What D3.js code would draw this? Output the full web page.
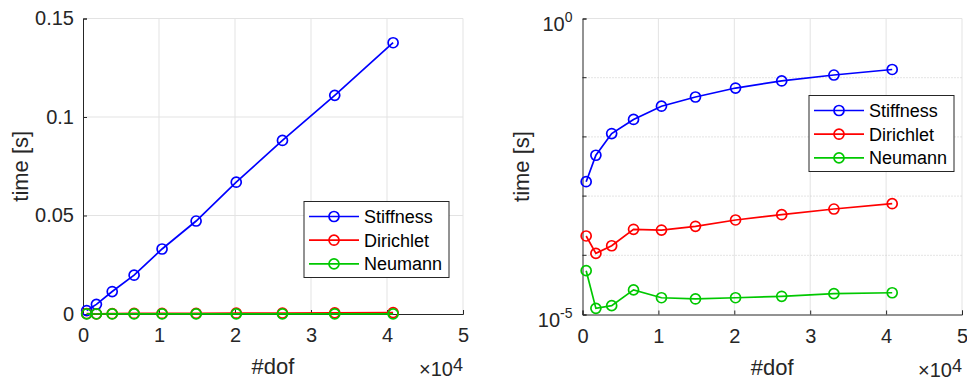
<!DOCTYPE html>
<html>
<head>
<meta charset="utf-8">
<script src="https://cdn.jsdelivr.net/npm/d3@7"></script>
<style>
  body { margin: 0; background: #fff; }
  svg { display: block; font-family: "Liberation Sans", Arial, Helvetica, sans-serif; }
</style>
</head>
<body>
<svg id="chart" width="967" height="381"></svg>
<script>
// data
const dof = [484, 1764, 3844, 6724, 10404, 14884, 20164, 26244, 33124, 40804];
const stiffness = [0.00175, 0.0049, 0.0114, 0.0197, 0.033, 0.0472, 0.0669, 0.0881, 0.111, 0.1377];
const dirichlet = [2.12e-4, 1.08e-4, 1.45e-4, 2.75e-4, 2.67e-4, 3.09e-4, 3.95e-4, 4.85e-4, 6.05e-4, 7.44e-4];
const neumann = [5.5e-5, 1.27e-5, 1.41e-5, 2.6e-5, 1.92e-5, 1.83e-5, 1.92e-5, 2.03e-5, 2.25e-5, 2.33e-5];
const seriesNames = ['Stiffness', 'Dirichlet', 'Neumann'];
const xTicks = [0, 10000, 20000, 30000, 40000, 50000];
const yTicksLin = [0, 0.05, 0.1, 0.15];
const yTicksLog = [1e-5, 1];
const yMinorLog = [1e-4, 1e-3, 1e-2, 1e-1];

const colors = ['#0000ff', '#ff0000', '#00c800'];
const axisColor = '#262626';
const gridColor = '#e3e3e3';

const series = [stiffness, dirichlet, neumann].map((vals, i) => ({
  name: seriesNames[i],
  color: colors[i],
  points: vals.map((v, j) => ({ x: dof[j], y: v }))
}));

const svg = d3.select('#chart');

/**
 * draws one MATLAB-like panel
 */
function drawPanel(opts) {
  const { left, top, width, height, log, legendPos } = opts;
  const g = svg.append('g').attr('transform', `translate(${left},${top})`);

  const x = d3.scaleLinear().domain([0, 50000]).range([0, width]);
  const y = log
    ? d3.scaleLog().domain([1e-5, 1]).range([height, 0])
    : d3.scaleLinear().domain([0, 0.15]).range([height, 0]);

  // grid
  const grid = g.append('g');
  grid.selectAll('.vg').data(xTicks.slice(1)).enter().append('line')
    .attr('x1', d => x(d)).attr('x2', d => x(d))
    .attr('y1', 0).attr('y2', height)
    .attr('stroke', gridColor).attr('stroke-width', 1);
  const hTicks = log ? yTicksLog : yTicksLin;
  grid.selectAll('.hg').data(hTicks.slice(1)).enter().append('line')
    .attr('x1', 0).attr('x2', width)
    .attr('y1', d => y(d)).attr('y2', d => y(d))
    .attr('stroke', gridColor).attr('stroke-width', 1);
  if (log) {
    grid.selectAll('.mg').data(yMinorLog).enter().append('line')
      .attr('x1', 0).attr('x2', width)
      .attr('y1', d => y(d)).attr('y2', d => y(d))
      .attr('stroke', '#c8c8c8').attr('stroke-width', 1)
      .attr('stroke-dasharray', '1,2');
  }

  // axes
  const xAxis = d3.axisBottom(x).tickValues(xTicks)
    .tickSize(-4).tickPadding(10)
    .tickFormat(d => d / 10000);
  const gx = g.append('g').attr('transform', `translate(0,${height})`).call(xAxis);

  let gy;
  if (log) {
    gy = g.append('g').call(d3.axisLeft(y).tickValues(yTicksLog).tickSize(-4).tickPadding(10).tickFormat(''));
    gy.selectAll('.tick').each(function(d) {
      const t = d3.select(this).append('text')
        .attr('x', -10).attr('y', 12)
        .attr('text-anchor', 'end')
        .attr('fill', axisColor)
        .style('font-size', '20px');
      const e = Math.round(Math.log10(d));
      t.append('tspan').text('10');
      t.append('tspan').attr('dy', -9).style('font-size', '14px').text(e);
    });
    g.append('g').selectAll('line').data(yMinorLog).enter().append('line')
      .attr('x1', 0).attr('x2', 4)
      .attr('y1', d => y(d)).attr('y2', d => y(d))
      .attr('stroke', axisColor);
  } else {
    gy = g.append('g').call(d3.axisLeft(y).tickValues(yTicksLin).tickSize(-4).tickPadding(9).tickFormat(d => d));
  }

  [gx, gy].forEach(a => {
    a.select('.domain').attr('stroke', axisColor);
    a.selectAll('.tick line').attr('stroke', axisColor);
    a.selectAll('.tick text').attr('fill', axisColor).style('font-size', '20px');
  });
  gx.selectAll('.tick text').attr('dy', '0.9em');

  // axis labels
  g.append('text')
    .attr('x', width / 2).attr('y', height + 60)
    .attr('text-anchor', 'middle')
    .attr('fill', axisColor)
    .style('font-size', '22px')
    .text('#dof');
  g.append('text')
    .attr('transform', `translate(${opts.ylabelX},${height / 2}) rotate(-90)`)
    .attr('text-anchor', 'middle')
    .attr('dy', '0.35em')
    .attr('fill', axisColor)
    .style('font-size', '22px')
    .text('time [s]');

  // exponent label
  const ex = g.append('text')
    .attr('x', width).attr('y', height + 62)
    .attr('text-anchor', 'end')
    .attr('fill', axisColor)
    .style('font-size', '20px');
  ex.append('tspan').text('\u00d710');
  ex.append('tspan').attr('dy', -5).style('font-size', '18px').text('4');

  // lines and markers
  const line = d3.line().x(d => x(d.x)).y(d => y(d.y));
  const sg = g.selectAll('.series').data(series).enter().append('g');
  sg.append('path')
    .attr('d', d => line(d.points))
    .attr('fill', 'none')
    .attr('stroke', d => d.color)
    .attr('stroke-width', 1.7);
  sg.selectAll('circle').data(d => d.points.map(p => ({ ...p, color: d.color }))).enter()
    .append('circle')
    .attr('cx', d => x(d.x)).attr('cy', d => y(d.y))
    .attr('r', 5)
    .attr('fill', 'none')
    .attr('stroke', d => d.color)
    .attr('stroke-width', 1.7);

  // legend
  const lg = svg.append('g').attr('transform', `translate(${legendPos[0]},${legendPos[1]})`);
  lg.append('rect')
    .attr('x', 0).attr('y', 0).attr('width', 145).attr('height', 76)
    .attr('fill', '#fff').attr('stroke', axisColor).attr('stroke-width', 1);
  const rows = lg.selectAll('.row').data(series).enter().append('g')
    .attr('transform', (d, i) => `translate(0,${15 + i * 23.7})`);
  rows.append('line')
    .attr('x1', 5).attr('x2', 55)
    .attr('stroke', d => d.color).attr('stroke-width', 1.7);
  rows.append('circle')
    .attr('cx', 30).attr('r', 5)
    .attr('fill', 'none').attr('stroke', d => d.color).attr('stroke-width', 1.7);
  rows.append('text')
    .attr('x', 60).attr('dy', '0.36em')
    .attr('fill', '#000')
    .style('font-size', '18px')
    .text(d => d.name);
}

drawPanel({ left: 83, top: 18.5, width: 380, height: 295.5, log: false, ylabelX: -63, legendPos: [304, 201.5] });
drawPanel({ left: 582.5, top: 18.5, width: 379.5, height: 296, log: true, ylabelX: -61.5, legendPos: [809, 95.5] });
</script>
</body>
</html>
